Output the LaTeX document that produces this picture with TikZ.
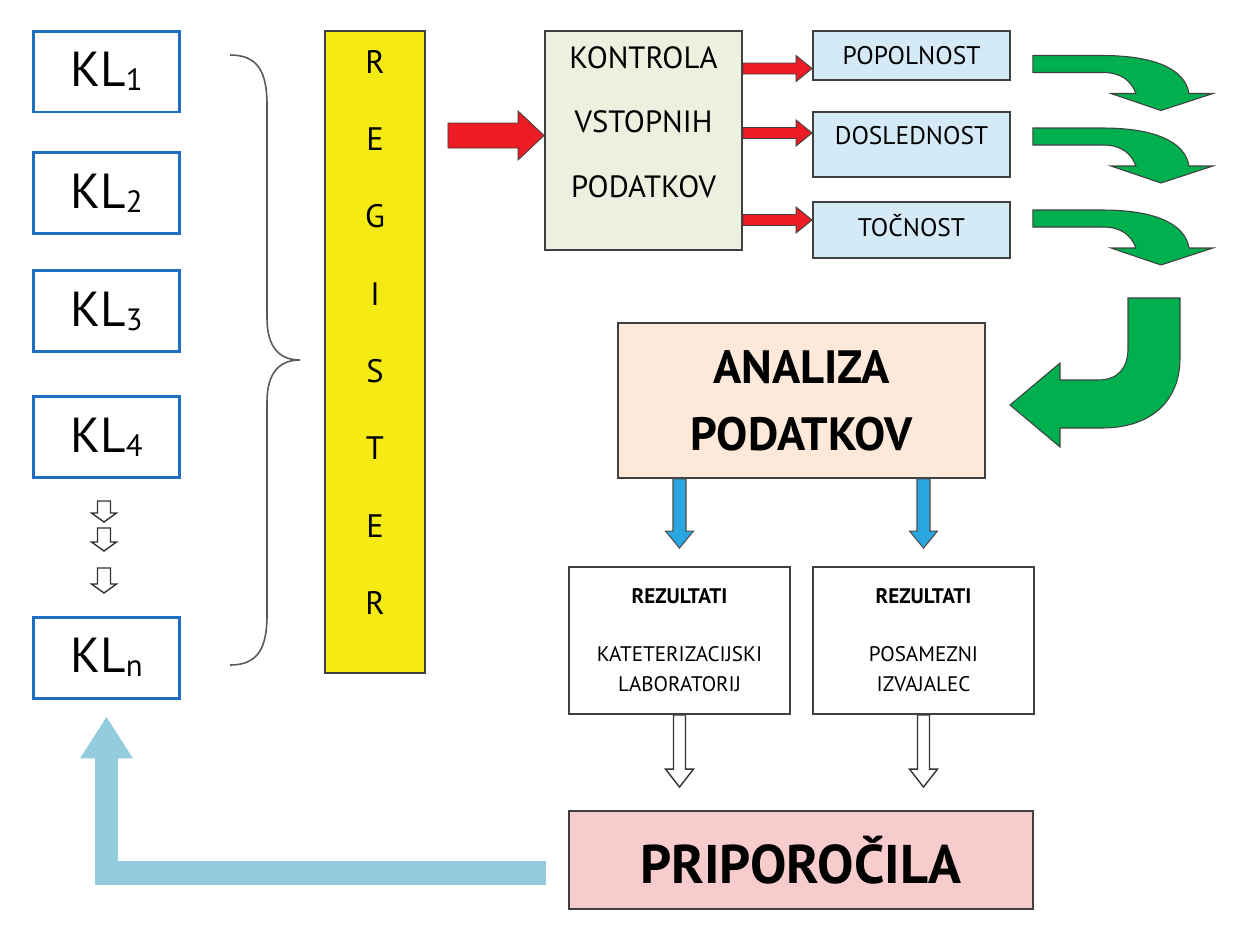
\documentclass[tikz,border=0pt]{standalone}
\usepackage{fontspec}
\setmainfont{PT Sans}
\usepackage{tikz}
\usetikzlibrary{arrows.meta, positioning, calc}
\definecolor{klblue}{HTML}{1F6EC1}
\definecolor{regyellow}{HTML}{F5EA14}
\definecolor{konfill}{HTML}{EBF1DE}
\definecolor{chkfill}{HTML}{D4EBF7}
\definecolor{anafill}{HTML}{FDE9D9}
\definecolor{prifill}{HTML}{F8CCCC}
\definecolor{arrred}{HTML}{ED1C24}
\definecolor{arrgreen}{HTML}{00B04F}
\definecolor{arrblue}{HTML}{2AA7E1}
\definecolor{backblue}{HTML}{93CDDD}
\definecolor{edge}{HTML}{404040}

% subscript of the KL boxes
\newcommand{\klsub}[1]{\raisebox{-2.3pt}{\fontsize{17.5}{18}\selectfont #1}}
% block arrows: style, from, to, shaft half width, head half width, head length
\newcommand{\blockright}[6]{%
  \filldraw[#1] ($(#2)+(0,-#4)$) -- ($(#3)+(-#6,-#4)$) -- ($(#3)+(-#6,-#5)$) -- (#3)
    -- ($(#3)+(-#6,#5)$) -- ($(#3)+(-#6,#4)$) -- ($(#2)+(0,#4)$) -- cycle;}
\newcommand{\blockdown}[6]{%
  \filldraw[#1] ($(#2)+(-#4,0)$) -- ($(#3)+(-#4,-#6)$) -- ($(#3)+(-#5,-#6)$) -- (#3)
    -- ($(#3)+(#5,-#6)$) -- ($(#3)+(#4,-#6)$) -- ($(#2)+(#4,0)$) -- cycle;}

\tikzset{
  curvearrow/.pic={
    \filldraw[greenarrow] (0,0) -- (70,0) .. controls (118,0) and (152,12) .. (156,38)
      -- (180,38) -- (128,55) -- (78,38) -- (103,38)
      .. controls (98,25) and (88,17) .. (70,17) -- (0,17) -- cycle;
  }
}

\begin{document}
\begin{tikzpicture}[
  x=0.02cm, y=-0.02cm,
  klbox/.style={rectangle, draw=klblue, line width=1.7pt, fill=white,
    minimum width=2.94cm, minimum height=1.62cm, inner sep=0pt,
    font=\fontsize{28}{30}\selectfont},
  regbar/.style={rectangle, draw=edge, line width=1.1pt, fill=regyellow,
    minimum width=2cm, minimum height=12.84cm},
  regletter/.style={font=\fontsize{18.5}{20}\selectfont, inner sep=0pt},
  konbox/.style={rectangle, draw=edge, line width=1.1pt, fill=konfill,
    minimum width=3.94cm, minimum height=4.38cm},
  kontext/.style={align=center, font=\fontsize{17.5}{36.8}\selectfont},
  chkbox/.style={rectangle, draw=edge, line width=1.1pt, fill=chkfill,
    minimum width=3.94cm, inner sep=0pt, font=\fontsize{14.5}{16}\selectfont},
  anabox/.style={rectangle, draw=edge, line width=1.1pt, fill=anafill,
    minimum width=7.34cm, minimum height=3.1cm, align=center,
    font=\fontsize{26.6}{38}\selectfont\bfseries},
  rezbox/.style={rectangle, draw=edge, line width=1.1pt, fill=white,
    minimum width=4.42cm, minimum height=2.94cm, align=center,
    font=\fontsize{12}{17.6}\selectfont},
  pribox/.style={rectangle, draw=edge, line width=1.1pt, fill=prifill,
    minimum width=9.28cm, minimum height=1.96cm,
    font=\fontsize{31}{33}\selectfont\bfseries},
  redarrow/.style={fill=arrred, draw=edge, line width=0.5pt},
  greenarrow/.style={fill=arrgreen, draw=black!75, line width=0.6pt},
  bluearrow/.style={fill=arrblue, draw=black!70, line width=0.6pt},
  hollowarrow/.style={fill=white, draw=black!80, line width=0.8pt},
  backarrow/.style={draw=backblue, line width=0.47cm, line join=miter,
    -{Triangle[width=1cm, length=0.84cm]}},
  klbrace/.style={draw=black!65, line width=0.9pt}
]
\useasboundingbox (0,0) rectangle (1246,948);

% KL column
\node[klbox] (kl1) at (106.5,71.5) {KL\klsub{1}};
\node[klbox] (kl2) at (106.5,193) {KL\klsub{2}};
\node[klbox] (kl3) at (106.5,311) {KL\klsub{3}};
\node[klbox] (kl4) at (106.5,437) {KL\klsub{4}};
\node[klbox] (kln) at (106.5,657.5) {KL\klsub{n}};

\foreach \a/\b in {22/43, 49/72, 89/114} {
  \coordinate (s\a) at ([shift={(-2.5,\a)}]kl4.south);
  \coordinate (e\a) at ([shift={(-2.5,\b)}]kl4.south);
  \blockdown{hollowarrow}{s\a}{e\a}{6.5}{12.5}{9}
}

% brace
\draw[klbrace] (230,55) .. controls (258,55) and (267,72) .. (267,105) -- (267,318)
  .. controls (267,348) and (280,360) .. (300,360)
  .. controls (280,360) and (267,372) .. (267,402) -- (267,615)
  .. controls (267,648) and (258,665) .. (230,665);

% register
\node[regbar] (reg) at (375,352) {};
\foreach \c [count=\i from 0] in {R,E,G,I,S,T,E,R}
  \node[regletter] (reg\i) at (375,{62+77.3*\i}) {\c};

% control of input data
\node[konbox] (kon) at (643.5,140.5) {};
\node[kontext] (kontxt) at (643.5,122) {KONTROLA\\VSTOPNIH\\PODATKOV};

\node[chkbox, minimum height=0.98cm] (pop) at (911.5,55.5) {POPOLNOST};
\node[chkbox, minimum height=1.3cm] (dos) at (911.5,144.5) {\raisebox{10pt}{DOSLEDNOST}};
\node[chkbox, minimum height=1.12cm] (toc) at (911.5,230) {\raisebox{5.6pt}{TOČNOST}};

% analysis and results
\node[anabox] (ana) at (801.5,400.5) {ANALIZA\\PODATKOV};
\node[rezbox] (rez1) at (679.5,640.5) {\textbf{REZULTATI}\\[15pt]KATETERIZACIJSKI\\LABORATORIJ};
\node[rezbox] (rez2) at (923.5,640.5) {\textbf{REZULTATI}\\[15pt]POSAMEZNI\\IZVAJALEC};
\node[pribox] (pri) at (801,860) {PRIPOROČILA};

% red arrows
\coordinate (a1) at ([shift={(0,-5)}]kon.west);
\coordinate (a0) at ($(reg.east |- a1)+(22,0)$);
\blockright{redarrow}{a0}{a1}{12.5}{24.5}{26}
\foreach \b/\dy in {pop/13, dos/-11.5, toc/-10} {
  \coordinate (\b1) at ([shift={(0,\dy)}]\b.west);
  \coordinate (\b0) at (kon.east |- \b1);
  \blockright{redarrow}{\b0}{\b1}{5.5}{13}{16}
}

% green arrows
\pic at ([shift={(22,0)}]pop.east) {curvearrow};
\pic at ([shift={(22,-16.5)}]dos.east) {curvearrow};
\pic at ([shift={(22,-20)}]toc.east) {curvearrow};
\filldraw[greenarrow] (1128,298) -- (1180,298) -- (1180,358)
  .. controls (1180,402) and (1150,428) .. (1102,428) -- (1060,428) -- (1060,447)
  -- (1010,405) -- (1060,363) -- (1060,380) -- (1098,380)
  .. controls (1118,380) and (1128,368) .. (1128,348) -- cycle;

% blue and hollow arrows
\foreach \r in {rez1, rez2} {
  \coordinate (\r t) at (\r.north |- ana.south);
  \coordinate (\r b) at ([shift={(0,-18)}]\r.north);
  \blockdown{bluearrow}{\r t}{\r b}{6.5}{14}{17}
  \coordinate (\r h) at ($(pri.north -| \r.south)+(0,-23)$);
  \blockdown{hollowarrow}{\r.south}{\r h}{6}{14}{18}
}

% feedback arrow
\draw[backarrow] ([shift={(-22,13)}]pri.west) -| ([shift={(0,17)}]kln.south);

\end{tikzpicture}
\end{document}
